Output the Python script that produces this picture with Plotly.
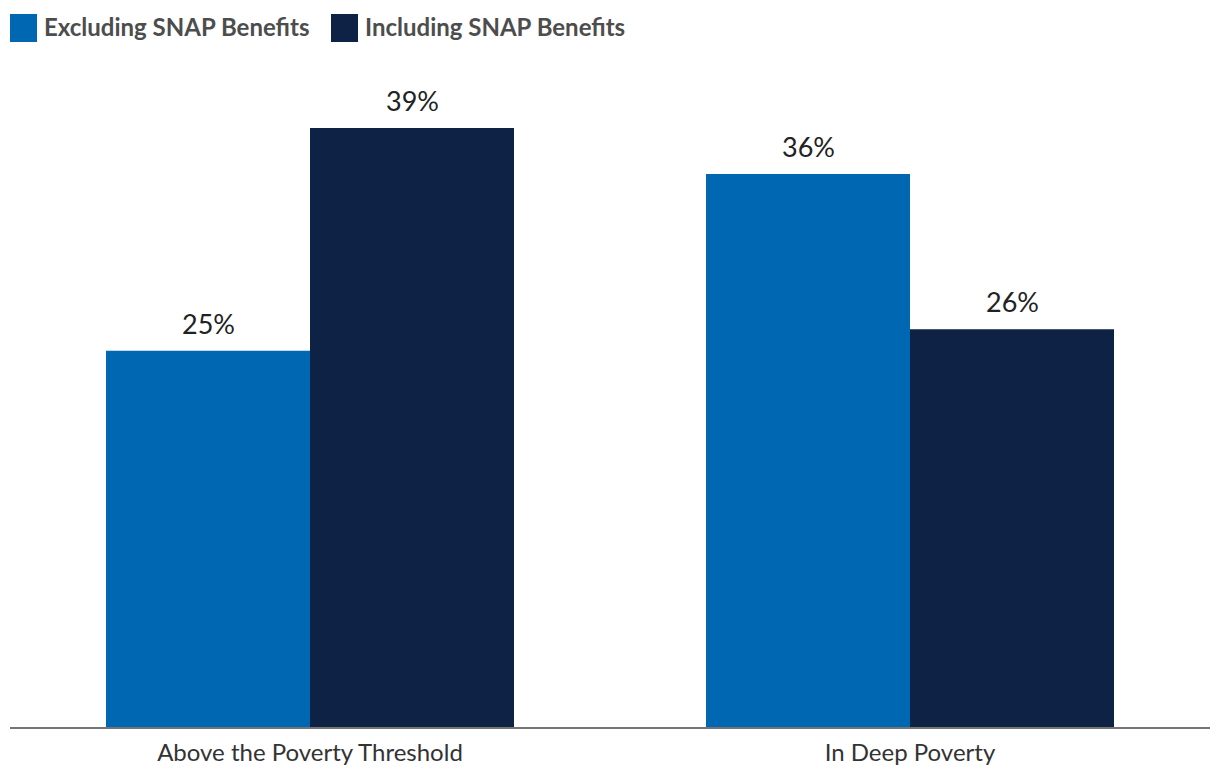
import plotly.graph_objects as go

categories = ["Above the Poverty Threshold", "In Deep Poverty"]
excluding = [24.5, 36.0]
including = [39.0, 25.9]
excluding_labels = ["25%", "36%"]
including_labels = ["39%", "26%"]
series_names = ["Excluding SNAP Benefits", "Including SNAP Benefits"]
colors = ["#0068B3", "#0E2245"]

fig = go.Figure()
series = [(excluding, excluding_labels, series_names[0], colors[0], -102),
          (including, including_labels, series_names[1], colors[1], 102)]
for vals, labels, name, col, shift in series:
    fig.add_trace(go.Bar(
        x=categories, y=vals, name=name, marker=dict(color=col, line=dict(width=0)),
        showlegend=False, hoverinfo="skip",
    ))
    for cat, v, lab in zip(categories, vals, labels):
        fig.add_annotation(x=cat, y=v, text=lab, showarrow=False, xshift=shift,
                           yanchor="bottom", yshift=9,
                           font=dict(family="Lato", size=27, color="#222222"))

# manual legend (swatches + text) in paper coordinates
W, H = 1200.0, 667.0  # plot area size in px
legend_x = [0, 321]
for i, (name, col) in enumerate(zip(series_names, colors)):
    x0 = legend_x[i]
    fig.add_shape(type="rect", xref="paper", yref="paper",
                  x0=x0 / W, x1=(x0 + 27) / W, y0=1 + 18 / H, y1=1 + 46 / H,
                  fillcolor=col, line=dict(width=0))
    fig.add_annotation(xref="paper", yref="paper", x=(x0 + 32) / W, y=1 + 34 / H,
                       xanchor="left", yanchor="middle", showarrow=False, text=name,
                       font=dict(family="Lato", size=24, color="#4D4D4D", weight="bold"))

fig.update_layout(
    width=1220, height=784,
    margin=dict(l=10, r=10, t=60, b=57),
    paper_bgcolor="white", plot_bgcolor="white",
    barmode="group", bargap=0.32, bargroupgap=0,
    font=dict(family="Lato", color="#333333"),
    showlegend=False,
    xaxis=dict(showline=True, linecolor="#757575", linewidth=2, ticks="",
               tickfont=dict(family="Lato", size=24, color="#333333"),
               ticklabelstandoff=3,
               showgrid=False, zeroline=False),
    yaxis=dict(range=[0, 43.42], visible=False, showgrid=False, zeroline=False),
)

fig.write_html("out.html", config={"displayModeBar": False},
               post_script="document.body.style.margin='0';document.body.style.overflow='hidden';")
